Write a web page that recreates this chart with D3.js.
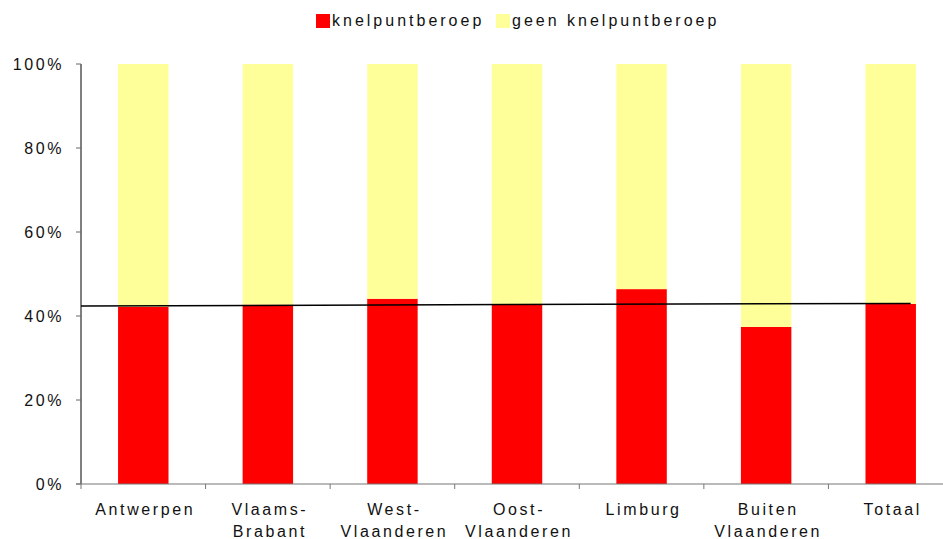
<!DOCTYPE html>
<meta charset="utf-8">
<style>
body { margin: 0; background: #fff; }
text { font-family: "Liberation Sans", Arial, sans-serif; fill: #111; }
.lbl { font-size: 16px; letter-spacing: 2.6px; }
.leg { font-size: 16px; letter-spacing: 3px; }
</style>
<svg width="943" height="539"></svg>
<script src="https://d3js.org/d3.v7.min.js"></script>
<script>
var regions = [["Antwerpen"], ["Vlaams-", "Brabant"], ["West-", "Vlaanderen"], ["Oost-", "Vlaanderen"],
               ["Limburg"], ["Buiten", "Vlaanderen"], ["Totaal"]];
var knelpunt = [42.2, 42.7, 44.1, 42.8, 46.4, 37.4, 42.9];
var geenKnelpunt = knelpunt.map(function(v) { return 100 - v; });
var refLine = [42.4, 43.0];
var yTicks = [0, 20, 40, 60, 80, 100];
var seriesNames = ["knelpuntberoep", "geen knelpuntberoep"];
var colors = ["#ff0000", "#ffff99"];

var svg = d3.select("svg"),
    x0 = 81, x1 = 953, yTop = 64, yBot = 484;

var keys = regions.map(function(d, i) { return i; });
var x = d3.scaleBand().domain(keys).range([x0, x1]);
var y = d3.scaleLinear().domain([0, 100]).range([yBot, yTop]);
var barW = x.bandwidth() * 0.405;

var rows = keys.map(function(i) { return { k: i, a: knelpunt[i], b: geenKnelpunt[i] }; });
var stack = d3.stack().keys(["a", "b"])(rows);

svg.append("g").selectAll("g")
    .data(stack)
    .enter().append("g")
      .attr("fill", function(d, i) { return colors[i]; })
    .selectAll("rect")
    .data(function(d) { return d; })
    .enter().append("rect")
      .attr("x", function(d) { return x(d.data.k) + x.bandwidth() / 2 - barW / 2; })
      .attr("y", function(d) { return y(d[1]); })
      .attr("width", barW)
      .attr("height", function(d) { return y(d[0]) - y(d[1]); });

// y axis
var yAxis = svg.append("g");
yAxis.append("line").attr("x1", x0).attr("x2", x0).attr("y1", yTop).attr("y2", yBot)
    .attr("stroke", "#000");
yAxis.selectAll(".t").data(yTicks).enter().append("line")
    .attr("x1", x0 - 5).attr("x2", x0)
    .attr("y1", function(d) { return y(d); }).attr("y2", function(d) { return y(d); })
    .attr("stroke", "#666");
yAxis.selectAll("text").data(yTicks).enter().append("text")
    .attr("class", "lbl")
    .attr("x", 64).attr("y", function(d) { return y(d) + 6; })
    .attr("text-anchor", "end")
    .text(function(d) { return d + "%"; });

// x axis
var xAxis = svg.append("g");
xAxis.append("line").attr("x1", x0 - 5).attr("x2", 943).attr("y1", yBot).attr("y2", yBot)
    .attr("stroke", "#777").attr("stroke-width", 1.2);
xAxis.selectAll(".t").data(keys).enter().append("line")
    .attr("x1", function(d) { return x(d); }).attr("x2", function(d) { return x(d); })
    .attr("y1", yBot).attr("y2", yBot + 5)
    .attr("stroke", "#777");
var xl = xAxis.selectAll("text").data(regions).enter().append("text")
    .attr("class", "lbl")
    .attr("text-anchor", "middle")
    .attr("transform", function(d, i) { return "translate(" + (x(i) + x.bandwidth() / 2 + 2) + "," + 515 + ")"; });
xl.selectAll("tspan").data(function(d) { return d; }).enter().append("tspan")
    .attr("x", 0).attr("y", function(d, j) { return j * 22; })
    .text(function(d) { return d; });

// reference line
svg.append("line")
    .attr("x1", x0)
    .attr("x2", x(6) + x.bandwidth() * 0.66)
    .attr("y1", y(refLine[0]))
    .attr("y2", y(refLine[1]))
    .attr("stroke", "#000")
    .attr("stroke-width", 1.5);

// legend
var legend = svg.append("g");
var lx = [316, 496];
seriesNames.forEach(function(name, i) {
  legend.append("rect").attr("x", lx[i]).attr("y", 14).attr("width", 14).attr("height", 14)
      .attr("fill", colors[i]);
  legend.append("text").attr("class", "leg").attr("x", lx[i] + 16).attr("y", 26).text(name);
});
</script>
